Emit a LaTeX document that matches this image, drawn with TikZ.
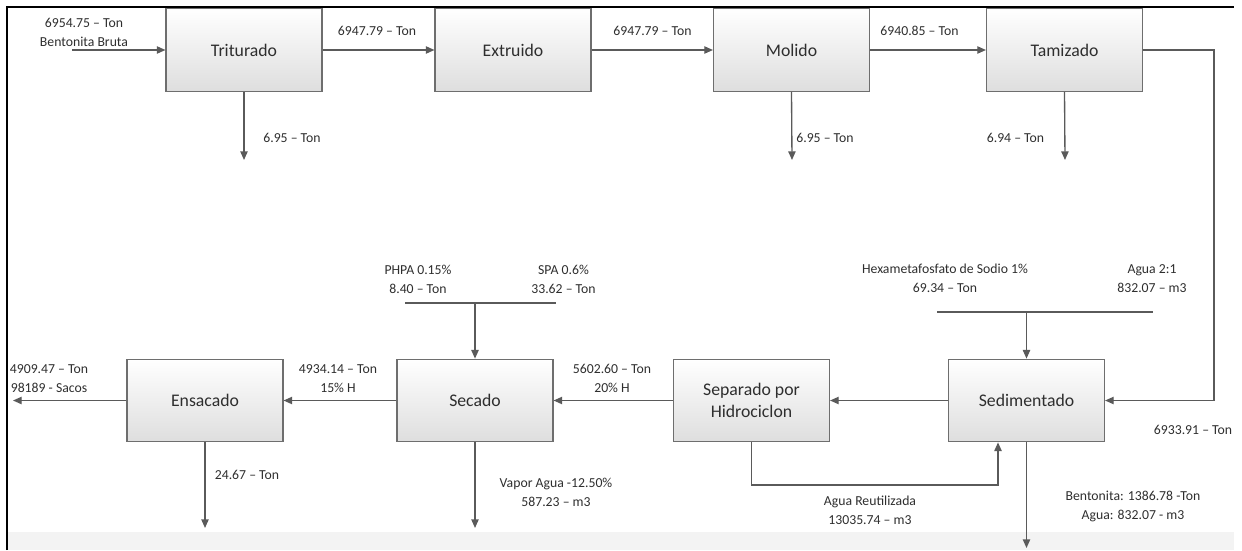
\documentclass[tikz,border=0pt]{standalone}
\usepackage{fontspec}
\setmainfont{Carlito}
\usetikzlibrary{arrows.meta}
\definecolor{linegray}{HTML}{5A5A5A}
\definecolor{boxedge}{HTML}{6E6E6E}
\definecolor{txt}{HTML}{2E2E2E}
\definecolor{band}{HTML}{F3F3F3}
\begin{document}
\begin{tikzpicture}[x=0.75pt,y=-0.75pt,
  proc/.style={draw=boxedge, line width=0.8pt, top color=white, bottom color=black!13,
    minimum width=117pt, minimum height=62pt, align=center, text=txt,
    font=\fontsize{13.3}{16.5}\selectfont},
  flow/.style={draw=linegray, line width=1pt, -{Triangle[length=6.5pt,width=5.5pt]}},
  bar/.style={draw=linegray, line width=1pt},
  lbl/.style={font=\fontsize{10.3}{14.2}\selectfont, text=txt, align=center, inner sep=0pt},
  frame/.style={draw=black, line width=1.6pt}]
\useasboundingbox (0,0) rectangle (1242,550);

% page frame and lower band
\fill[band] (8,532) rectangle (1234,550);
\draw[frame] (7,550) -- (7,7) -- (1234,7);

% process boxes
\node[proc] (tri) at (244,50) {Triturado};
\node[proc] (ext) at (513,50) {Extruido};
\node[proc] (mol) at (791.5,50) {Molido};
\node[proc] (tam) at (1064.5,50) {Tamizado};
\node[proc] (ens) at (205,400.5) {Ensacado};
\node[proc] (sec) at (475,400.5) {Secado};
\node[proc] (sep) at (751.5,400.5) {Separado por\\Hidrociclon};
\node[proc] (sed) at (1026.5,400.5) {Sedimentado};

% free ends of the streams
\coordinate (in0) at (72,50);
\coordinate (triD) at (244,160);
\coordinate (molD) at (792,160);
\coordinate (tamD) at (1065,160);
\coordinate (rc) at (1214,300);
\coordinate (ensOut) at (13,400.5);
\coordinate (ensD) at (205,528);
\coordinate (secD) at (475,528);
\coordinate (sedD) at (1026.5,548);
\coordinate (secL) at (405,303);
\coordinate (secR) at (556,303);
\coordinate (sedL) at (937,312);
\coordinate (sedR) at (1153,312);
\coordinate (rec) at (998,485);

% top line
\draw[flow] (in0) -- (tri.west);
\draw[flow] (tri.east) -- (ext.west);
\draw[flow] (ext.east) -- (mol.west);
\draw[flow] (mol.east) -- (tam.west);
\draw[flow] (tri.south) -- (triD);
\draw[flow] (mol.south) -- (molD);
\draw[flow] (tam.south) -- (tamD);
\draw[flow] (tam.east) -| (rc) |- (sed.east);

% bottom line
\draw[flow] (sed.west) -- (sep.east);
\draw[flow] (sep.west) -- (sec.east);
\draw[flow] (sec.west) -- (ens.east);
\draw[flow] (ens.west) -- (ensOut);
\draw[flow] (ens.south) -- (ensD);
\draw[flow] (sec.south) -- (secD);
\draw[flow] (sed.south) -- (sedD);
\draw[flow] (sep.south) |- (rec) -- (rec |- sed.south);

% additive feeds
\draw[bar] (secL) -- (secR);
\draw[flow] (sec.north |- secL) -- (sec.north);
\draw[bar] (sedL) -- (sedR);
\draw[flow] (sed.north |- sedL) -- (sed.north);

% stream labels
\node[lbl] (l1) at (84,32.5) {6954.75 – Ton\\Bentonita Bruta};
\node[lbl] (l2) at (377,30.5) {6947.79 – Ton};
\node[lbl] (l3) at (652.5,30.5) {6947.79 – Ton};
\node[lbl] (l4) at (919.5,30.5) {6940.85 – Ton};
\node[lbl] (l5) at (292,138) {6.95 – Ton};
\node[lbl] (l6) at (825,138) {6.95 – Ton};
\node[lbl] (l7) at (1015.5,138) {6.94 – Ton};
\node[lbl] (l8) at (418,279) {PHPA 0.15\%\\8.40 – Ton};
\node[lbl] (l9) at (563.5,279) {SPA 0.6\%\\33.62 – Ton};
\node[lbl] (l10) at (945,278.5) {Hexametafosfato de Sodio 1\%\\69.34 – Ton};
\node[lbl] (l11) at (1152,278.5) {Agua 2:1\\832.07 – m3};
\node[lbl] (l12) at (49,378.5) {4909.47 – Ton\\98189 - Sacos};
\node[lbl] (l13) at (338,378.5) {4934.14 – Ton\\15\% H};
\node[lbl] (l14) at (612,378.5) {5602.60 – Ton\\20\% H};
\node[lbl] (l15) at (1193,430) {6933.91 – Ton};
\node[lbl] (l16) at (247,475) {24.67 – Ton};
\node[lbl] (l17) at (556,492) {Vapor Agua -12.50\%\\587.23 – m3};
\node[lbl] (l18) at (870,510.5) {Agua Reutilizada\\13035.74 – m3};
\node[lbl] (l19) at (1133,506.5) {Bentonita: 1386.78 -Ton\\Agua: 832.07 - m3};
\end{tikzpicture}
\end{document}
